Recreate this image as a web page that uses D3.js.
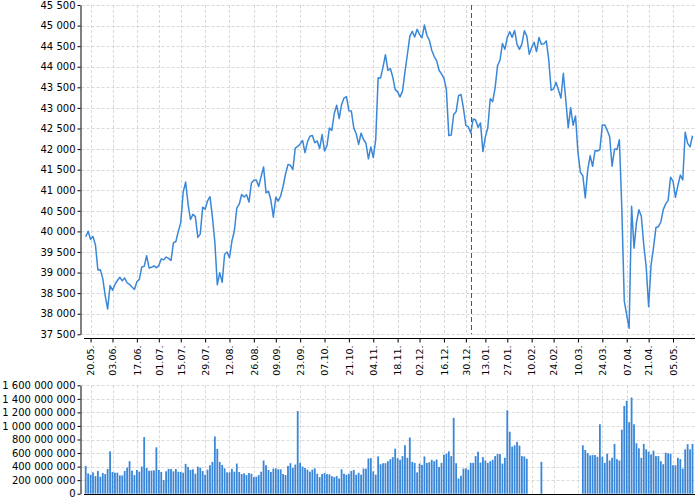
<!DOCTYPE html>
<html><head><meta charset="utf-8">
<script src="https://cdn.jsdelivr.net/npm/d3@7"></script>
<style>body{margin:0;background:#fff} svg{display:block}</style>
</head><body><svg id="chart" width="700" height="500"></svg>
<script>
// ---------- DATA ----------
const startDate = "2024-05-16";
const endDate = "2025-05-15";
const holidays = ["2024-05-27","2024-06-19","2024-07-04","2024-09-02","2024-11-28","2024-12-25",
  "2025-01-01","2025-01-09","2025-01-20","2025-02-17","2025-04-18"];

const closes = [
// May 2024
39869,40004,39807,39873,39671,39065,39070,38853,38442,38112,38686,
// Jun
38571,38711,38807,38886,38799,38868,38747,38712,38647,38589,38778,38835,39134,39150,39411,39112,39127,39164,39119,
// Jul
39170,39332,39308,39376,39345,39292,39721,39754,40001,40212,40954,41198,40665,40288,40415,40358,39854,39935,40589,40540,40743,40843,
// Aug
40348,39737,38703,38997,38763,39446,39498,39357,39766,40009,40563,40660,40896,40835,40891,40713,41175,41240,41251,41092,41335,41563,
// Sep
40937,40975,40756,40345,40830,40737,40861,41097,41394,41623,41606,41503,42025,42063,42125,42208,41915,42175,42313,42330,
// Oct
42156,42197,42012,42353,41955,42080,42512,42454,42864,43065,42740,43077,43239,43276,42932,42925,42514,42374,42114,42387,42233,42142,41763,
// Nov
42052,41794,42222,43730,43729,43989,44293,43911,43958,43751,43445,43390,43269,43408,43870,44297,44737,44861,44722,44911,
// Dec
44782,44705,45014,44766,44643,44402,44248,44149,43915,43828,43717,43450,42327,42343,42840,42907,43297,43326,42992,42574,42544,
// Jan 2025
42392,42732,42707,42528,42635,41938,42297,42518,43222,43153,43488,44026,44157,44565,44424,44714,44850,44714,44882,44545,
// Feb
44422,44556,44873,44748,44303,44470,44594,44368,44711,44546,44556,44628,44177,43428,43461,43621,43433,43239,43841,
// Mar
43191,42521,43006,42579,42802,41912,41433,41351,40814,41488,41842,41582,41965,41953,41985,42583,42587,42455,42300,41584,42002,
// Apr
41990,42226,40546,38315,37966,37646,40608,39594,40213,40525,40369,39669,39142,38170,39187,39607,40093,40114,40228,40528,40669,
// May
40753,41317,41219,40829,41114,41368,41250,42410,42140,42052,42323
];

// volume in millions of shares (null = no data)
const volumes = [
410,300,280,315,260,335,250,305,290,365,
625,320,310,310,270,270,335,385,480,340,
275,350,325,400,835,380,340,340,345,685,
350,320,200,330,365,365,330,365,325,320,
310,440,395,350,360,295,400,385,335,280,
355,420,470,845,660,470,425,375,315,315,
365,325,445,320,290,300,275,305,295,245,
250,275,325,490,420,350,320,370,375,360,
360,290,275,410,450,380,430,1220,455,400,
380,355,325,355,375,295,245,290,305,290,
285,260,245,260,225,360,295,280,295,
335,350,280,310,280,370,370,520,525,330,
280,550,435,450,450,480,510,540,665,525,
500,555,715,530,830,470,455,315,445,425,
550,455,465,500,480,505,395,455,575,590,
625,555,1120,450,225,265,370,375,355,455,
455,555,620,460,540,490,455,480,500,555,
585,585,445,530,1230,915,695,715,765,710,
555,550,515,
null,null,null,null,null,470,
null,null,null,null,null,null,null,null,null,null,null,null,null,null,null,null,
715,645,600,565,570,570,545,1025,545,455,
590,490,530,735,510,490,945,1295,1370,1055,
1420,1025,745,670,530,735,655,620,580,635,
555,555,480,435,605,595,590,420,420,530,
510,370,655,730,655,735
];

const tickDates = ["2024-05-20","2024-06-03","2024-06-17","2024-07-01","2024-07-15","2024-07-29",
  "2024-08-12","2024-08-26","2024-09-09","2024-09-23","2024-10-07","2024-10-21","2024-11-04",
  "2024-11-18","2024-12-02","2024-12-16","2024-12-30","2025-01-13","2025-01-27","2025-02-10",
  "2025-02-24","2025-03-10","2025-03-24","2025-04-07","2025-04-21","2025-05-05"];
const yearMarker = "2025-01-02";
const priceTicks = [37500,38000,38500,39000,39500,40000,40500,41000,41500,42000,42500,43000,43500,44000,44500,45000,45500];
const volumeTicks = [0,200e6,400e6,600e6,800e6,1000e6,1200e6,1400e6,1600e6];

// ---------- BUILD ----------
const days = [];
for (let d = new Date(startDate + "T00:00:00Z"); d <= new Date(endDate + "T00:00:00Z"); d.setUTCDate(d.getUTCDate() + 1)) {
  const dow = d.getUTCDay();
  const s = d.toISOString().slice(0, 10);
  if (dow > 0 && dow < 6 && !holidays.includes(s)) days.push(s);
}
const priceData = days.map((d, i) => ({date: d, close: closes[i]}));
const volData = days.map((d, i) => ({date: d, vol: volumes[i] == null ? null : volumes[i] * 1e6})).filter(d => d.vol != null);

const loc = d3.formatLocale({decimal: ",", thousands: " ", grouping: [3], currency: ["", ""]});
const fmt = loc.format(",d");
const fmtDate = s => s.slice(8, 10) + "." + s.slice(5, 7) + ".";

const svg = d3.select("#chart");
const FONT = "DejaVu Sans";
const gridColor = "#d9d9d9";
const lineColor = "#3a87d8";

const x = d3.scalePoint().domain(days).range([85.7, 692.5]);
const y = d3.scaleLinear().domain([37500, 45500]).range([334.3, 5]);
const yv = d3.scaleLinear().domain([0, 1.6e9]).range([493.7, 385.3]);
const xLeft = 80.5, xRight = 695;

// grids - price
const gP = svg.append("g");
gP.selectAll("line.h").data(priceTicks).join("line")
  .attr("x1", xLeft + 1).attr("x2", xRight)
  .attr("y1", d => Math.round(y(d)) + 0.5).attr("y2", d => Math.round(y(d)) + 0.5)
  .attr("stroke", gridColor).attr("stroke-dasharray", "3,2");
gP.selectAll("line.v").data(tickDates).join("line")
  .attr("x1", d => Math.round(x(d)) + 0.5).attr("x2", d => Math.round(x(d)) + 0.5)
  .attr("y1", y(45500)).attr("y2", y(37500))
  .attr("stroke", gridColor).attr("stroke-dasharray", "3,2");
// grids - volume
const gV = svg.append("g");
gV.selectAll("line.h").data(volumeTicks.slice(1)).join("line")
  .attr("x1", xLeft + 1).attr("x2", xRight)
  .attr("y1", d => Math.round(yv(d)) + 0.5).attr("y2", d => Math.round(yv(d)) + 0.5)
  .attr("stroke", gridColor).attr("stroke-dasharray", "3,2");
gV.selectAll("line.v").data(tickDates).join("line")
  .attr("x1", d => Math.round(x(d)) + 0.5).attr("x2", d => Math.round(x(d)) + 0.5)
  .attr("y1", yv(1.6e9)).attr("y2", yv(0))
  .attr("stroke", gridColor).attr("stroke-dasharray", "3,2");

// year marker
svg.append("line")
  .attr("x1", Math.round(x(yearMarker)) + 0.5).attr("x2", Math.round(x(yearMarker)) + 0.5)
  .attr("y1", y(45500)).attr("y2", y(37500))
  .attr("stroke", "#555").attr("stroke-dasharray", "5,3");

// price line
svg.append("path").datum(priceData)
  .attr("fill", "none").attr("stroke", lineColor).attr("stroke-width", 1.5)
  .attr("stroke-linejoin", "round")
  .attr("d", d3.line().x(d => x(d.date)).y(d => y(d.close)));

// volume bars
svg.append("g").selectAll("rect").data(volData).join("rect")
  .attr("x", d => x(d.date) - 0.9).attr("width", 1.8)
  .attr("y", d => yv(d.vol)).attr("height", d => yv(0) - yv(d.vol))
  .attr("fill", lineColor);

// y axes
const styleAxis = g => {
  g.selectAll("text").attr("font-family", FONT).attr("font-size", 10).attr("fill", "#000");
  g.selectAll("line,path").attr("stroke", "#000");
};
svg.append("g").attr("transform", `translate(${xLeft},0)`)
  .call(d3.axisLeft(y).tickValues(priceTicks).tickFormat(fmt).tickSize(3).tickSizeOuter(0).tickPadding(2))
  .call(styleAxis);
svg.append("g").attr("transform", `translate(${xLeft},0)`)
  .call(d3.axisLeft(yv).tickValues(volumeTicks).tickFormat(fmt).tickSize(3).tickSizeOuter(0).tickPadding(2))
  .call(styleAxis);

// x axis (price)
const xa = svg.append("g").attr("transform", "translate(0,338.5)")
  .call(d3.axisBottom(x).tickValues(tickDates).tickFormat(fmtDate).tickSize(4).tickSizeOuter(0).tickPadding(3))
  .call(styleAxis);
xa.select(".domain").attr("d", `M84,0H${xRight}`);
xa.selectAll("text").attr("transform", "rotate(-90)").attr("text-anchor", "end")
  .attr("x", -7).attr("y", 0).attr("dy", "0.35em").attr("font-size", 9.5);

// volume baseline
svg.append("line").attr("x1", 84).attr("x2", xRight).attr("y1", 494.5).attr("y2", 494.5)
  .attr("stroke", "#000");
</script>
</body></html>
